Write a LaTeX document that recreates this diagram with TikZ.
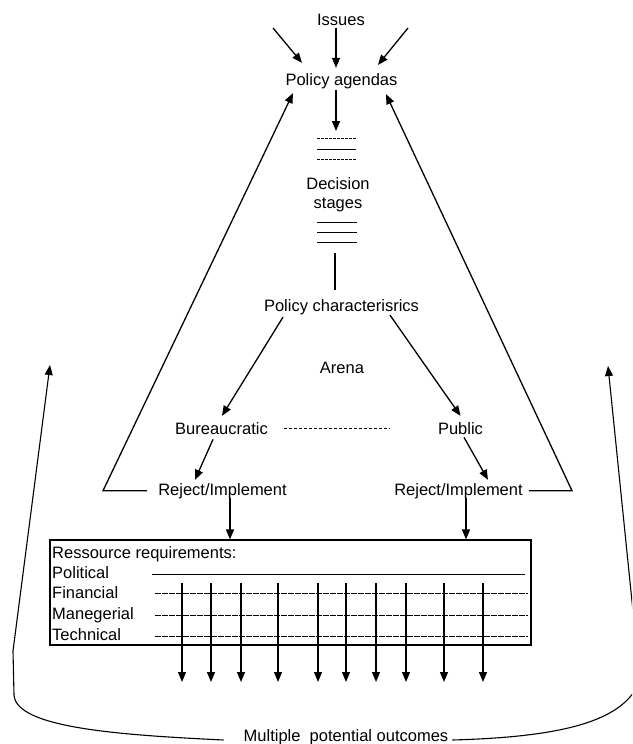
\documentclass[tikz,border=0pt]{standalone}
\usepackage{fontspec}
\setmainfont{Liberation Sans}
\usetikzlibrary{arrows.meta,calc}
\begin{document}
\begin{tikzpicture}[x=1pt,y=-1pt,
  lbl/.style={inner sep=0pt,anchor=base,font=\fontsize{16.5}{19}\selectfont},
  rowlbl/.style={lbl,anchor=base west},
  arr/.style={line width=1.3pt,-{Triangle[length=10pt,width=8pt]}},
  conn/.style={line width=1.2pt},
  rule/.style={line width=0.8pt},
  dashrule/.style={line width=0.8pt,dash pattern=on 6pt off 1pt},
  dotrule/.style={line width=0.8pt,dash pattern=on 3pt off 1pt}]
\useasboundingbox (0,0) rectangle (632,744);
\clip (0,0) rectangle (632,744);

% text labels
\node[lbl] (issues) at (341,25) {Issues};
\node[lbl] (agendas) at (341.5,85) {Policy agendas};
\node[lbl,anchor=north,align=center] (decision) at (338,177) {Decision\\stages};
\node[lbl] (charac) at (341.5,311) {Policy characterisrics};
\node[lbl] (arena) at (342,373) {Arena};
\node[lbl] (bureau) at (221.5,434) {Bureaucratic};
\node[lbl] (public) at (460.5,434) {Public};
\node[lbl] (rejL) at (222.5,495) {Reject/Implement};
\node[lbl] (rejR) at (458.5,495) {Reject/Implement};
\node[lbl] (out) at (346,741) {Multiple\ \ potential outcomes};

% resource box
\node[draw,line width=1.2pt,minimum width=481pt,minimum height=105pt,inner sep=0pt] (box) at (290.5,592.5) {};
\node[rowlbl] (res) at (52,558) {Ressource requirements:};
\node[rowlbl] (pol) at (52,578) {Political};
\node[rowlbl] (fin) at (52,598) {Financial};
\node[rowlbl] (man) at (52,619) {Manegerial};
\node[rowlbl] (tec) at (52,640) {Technical};
\draw[rule] (152,574) -- (525,574);
\draw[dashrule] (155,593) -- (528,593);
\draw[dashrule] (155,615) -- (528,615);
\draw[dashrule] (155,636) -- (528,636);
\foreach \x in {182,211,241,278,318,346,376,406,444,483}
  \draw[arr] (\x,583) -- (\x,682);

% issues feeding the agenda
\coordinate (srcL) at (273,28);
\coordinate (srcR) at (408,28);
\draw[arr] (srcL) -- ([xshift=-39.5pt,yshift=10pt]agendas.north);
\draw[arr] ([xshift=-5pt,yshift=-3pt]issues.south) -- ([xshift=-5.5pt,yshift=5pt]agendas.north);
\draw[arr] (srcR) -- ([xshift=36.5pt,yshift=8pt]agendas.north);

% decision stages
\coordinate (stg) at (336,131);
\draw[arr] ([xshift=-5.5pt,yshift=-1pt]agendas.south) -- (stg);
\draw[dotrule] (317,138) -- (356,138);
\draw[rule] (317,149) -- (356,149);
\draw[dotrule] (317,159) -- (356,159);
\draw[rule] (317,222) -- (357,222);
\draw[rule] (317,232) -- (357,232);
\draw[rule] (317,242) -- (357,242);
\draw[conn] ([xshift=-3pt,yshift=-41.5pt]decision.south) -- ([xshift=-6.5pt,yshift=9pt]charac.north);

% arenas
\draw[arr] ([xshift=-58.5pt,yshift=-2.5pt]charac.south) -- ([xshift=0.5pt,yshift=6pt]bureau.north);
\draw[arr] ([xshift=48.5pt,yshift=-0.5pt]charac.south) -- ([yshift=6pt]public.north);
\draw[line width=0.8pt,densely dashed] ([xshift=16pt]bureau.east) -- ([xshift=-48pt]public.west);
\draw[arr] ([xshift=-8.5pt,yshift=-5pt]bureau.south) -- ([xshift=-27.5pt,yshift=3pt]rejL.north);
\draw[arr] ([xshift=3.5pt,yshift=-3pt]public.south) -- ([xshift=29.5pt,yshift=3pt]rejR.north);

% decisions into resource requirements
\draw[arr] ([xshift=7.5pt,yshift=1pt]rejL.south) -- ([xshift=-60.5pt]box.north);
\draw[arr] ([xshift=7.5pt,yshift=1pt]rejR.south) -- ([xshift=175.5pt]box.north);

% feedback to the agenda
\coordinate (fbL) at (103,492);
\coordinate (fbR) at (572,492);
\draw[arr] ([xshift=-11pt]rejL.west) -- (fbL |- rejL.west) -- ([xshift=-48.5pt,yshift=-4.5pt]agendas.south);
\draw[arr] ([xshift=6pt]rejR.east) -- (fbR |- rejR.east) -- ([xshift=44.5pt,yshift=-5.5pt]agendas.south);

% outcomes looping back
\draw[arr,line width=1.1pt] ([xshift=-20pt,yshift=1pt]out.base west) .. controls (120,735) and (16,728) .. (14,695) -- (13,651) -- (50,365);
\draw[arr,line width=1.1pt] ([xshift=4pt,yshift=1pt]out.base east) .. controls (560,737) and (625,722) .. (640,680) -- (608,366);
\end{tikzpicture}
\end{document}
